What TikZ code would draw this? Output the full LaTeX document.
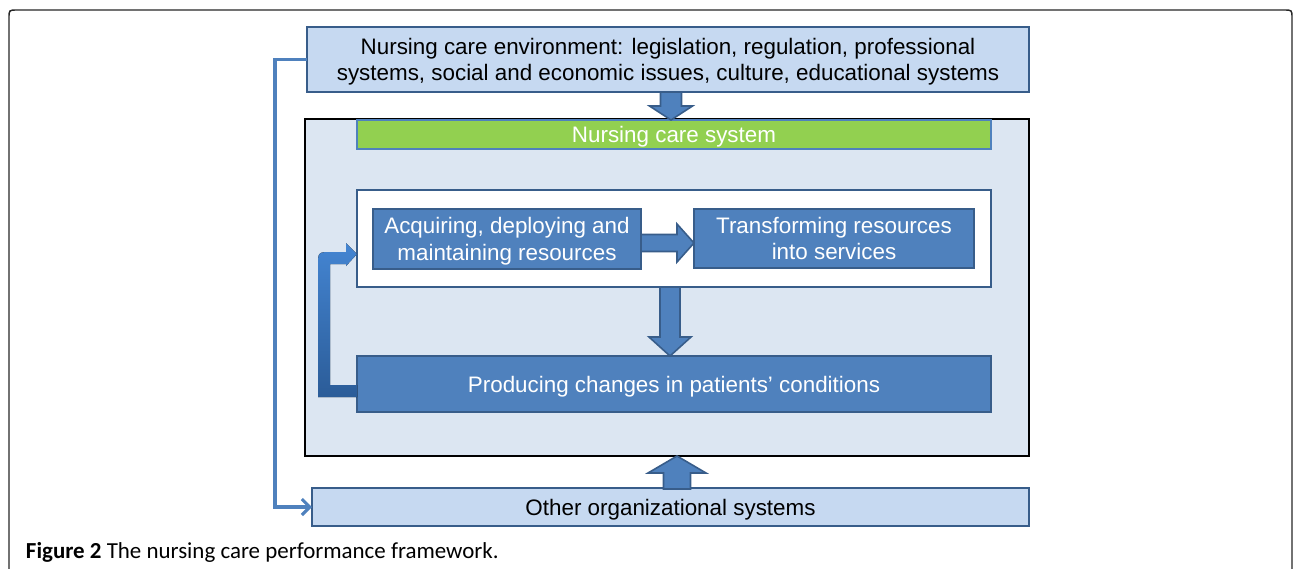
\documentclass[tikz,border=0pt]{standalone}
\usepackage{fontspec}
\setmainfont{Liberation Sans}
\newfontfamily\capfont{Carlito}
\usetikzlibrary{calc,arrows.meta}
\definecolor{lightfill}{HTML}{C6D9F1}
\definecolor{framefill}{HTML}{DCE6F2}
\definecolor{midblue}{HTML}{4F81BD}
\definecolor{darkblue}{HTML}{385D8A}
\definecolor{greenbar}{HTML}{92D050}
\definecolor{fbtop}{HTML}{4485D2}
\definecolor{fbbottom}{HTML}{2B5C98}
\def\px{0.75pt}
\tikzset{
  every node/.style={inner sep=0pt, outer sep=0pt},
  txt/.style={font=\fontsize{16.8}{20}\selectfont, align=center, text depth=0pt},
  lightbox/.style={txt, draw=darkblue, line width=1.5pt, fill=lightfill, text=black},
  bluebox/.style={txt, draw=darkblue, line width=1.5pt, fill=midblue, text=white},
  blk/.style={draw=darkblue, line width=1.2pt, fill=midblue, line join=miter},
  conn/.style={draw=midblue, line width=2.3pt, -{Straight Barb[length=6pt,width=12pt,line width=2.3pt]}},
}
\begin{document}
\begin{tikzpicture}[x={(0.75pt,0)}, y={(0,-0.75pt)}]
\useasboundingbox (0,0) rectangle (1293,568);
% outer rounded frame (open at bottom)
\draw[line width=1.1pt, draw=black!85] (9,570) -- (9,18) .. controls (9,10) .. (17,10) -- (1284,10) .. controls (1292,10) .. (1292,18) -- (1292,570);

% nodes
\node[lightbox, minimum width=722*\px, minimum height=65*\px] (env) at (668,59.5)
  {Nursing care environment: legislation, regulation, professional\\systems, social and economic issues, culture, educational systems};
\node[draw=black, line width=2pt, fill=framefill, minimum width=724*\px, minimum height=337*\px] (sys) at (667,287.5) {};
\node[txt, draw=midblue, line width=1.2pt, fill=greenbar, text=white, minimum width=634*\px, minimum height=29*\px] (green) at (674,134.5) {Nursing care system};
\node[draw=darkblue, line width=1.2pt, fill=white, minimum width=634*\px, minimum height=97*\px] (white) at (674,238.5) {};
\node[bluebox, minimum width=268*\px, minimum height=60*\px] (acq) at (507,239) {Acquiring, deploying and\\maintaining resources};
\node[bluebox, minimum width=280*\px, minimum height=59*\px] (trans) at (834,238.5) {Transforming resources\\into services};
\node[bluebox, minimum width=634*\px, minimum height=56*\px] (prod) at (674,384) {Producing changes in patients’ conditions};
\node[lightbox, minimum width=717*\px, minimum height=38*\px] (other) at (670.5,507) {Other organizational systems};

% block arrows
\coordinate (t1) at ($(green.north)+(-3,0)$);
\draw[blk] (t1) -- ++(-21.5,-14) -- ++(11,0) -- ++(0,-14) -- ++(21,0) -- ++(0,14) -- ++(11,0) -- cycle;
\coordinate (t2) at ($(prod.north)+(-4,0)$);
\draw[blk] (t2) -- ++(-21,-19) -- ++(11,0) -- ++(0,-50) -- ++(20,0) -- ++(0,50) -- ++(11,0) -- cycle;
\coordinate (t3) at ($(sys.south)+(10,0)$);
\draw[blk] (t3) -- ++(-29,17) -- ++(15.5,0) -- ++(0,16) -- ++(27,0) -- ++(0,-16) -- ++(15.5,0) -- cycle;
\coordinate (t4) at ($(trans.west)+(0,4.5)$);
\draw[blk] (t4) -- ++(-17,-19) -- ++(0,10.5) -- ++(-36,0) -- ++(0,17) -- ++(36,0) -- ++(0,10.5) -- cycle;

% feedback arrow
\fill[shift={(prod.west)}, top color=fbtop, bottom color=fbbottom]
  (0,1) -- (-27,1) -- (-27,-120) -- (-11,-120) -- (-11,-118) -- (0,-130) -- (-11,-141) -- (-11,-132)
  -- (-25,-132) .. controls (-39,-132) .. (-39,-118) -- (-39,13) -- (0,13) -- cycle;

% connector
\draw[conn] (env.west) -- ++(-32,0) |- (other.west);

% caption
\node[anchor=base west, font=\capfont\fontsize{17.2}{20}\selectfont] (cap) at (26,558)
  {\textbf{Figure 2} The nursing care performance framework.};
\end{tikzpicture}
\end{document}
